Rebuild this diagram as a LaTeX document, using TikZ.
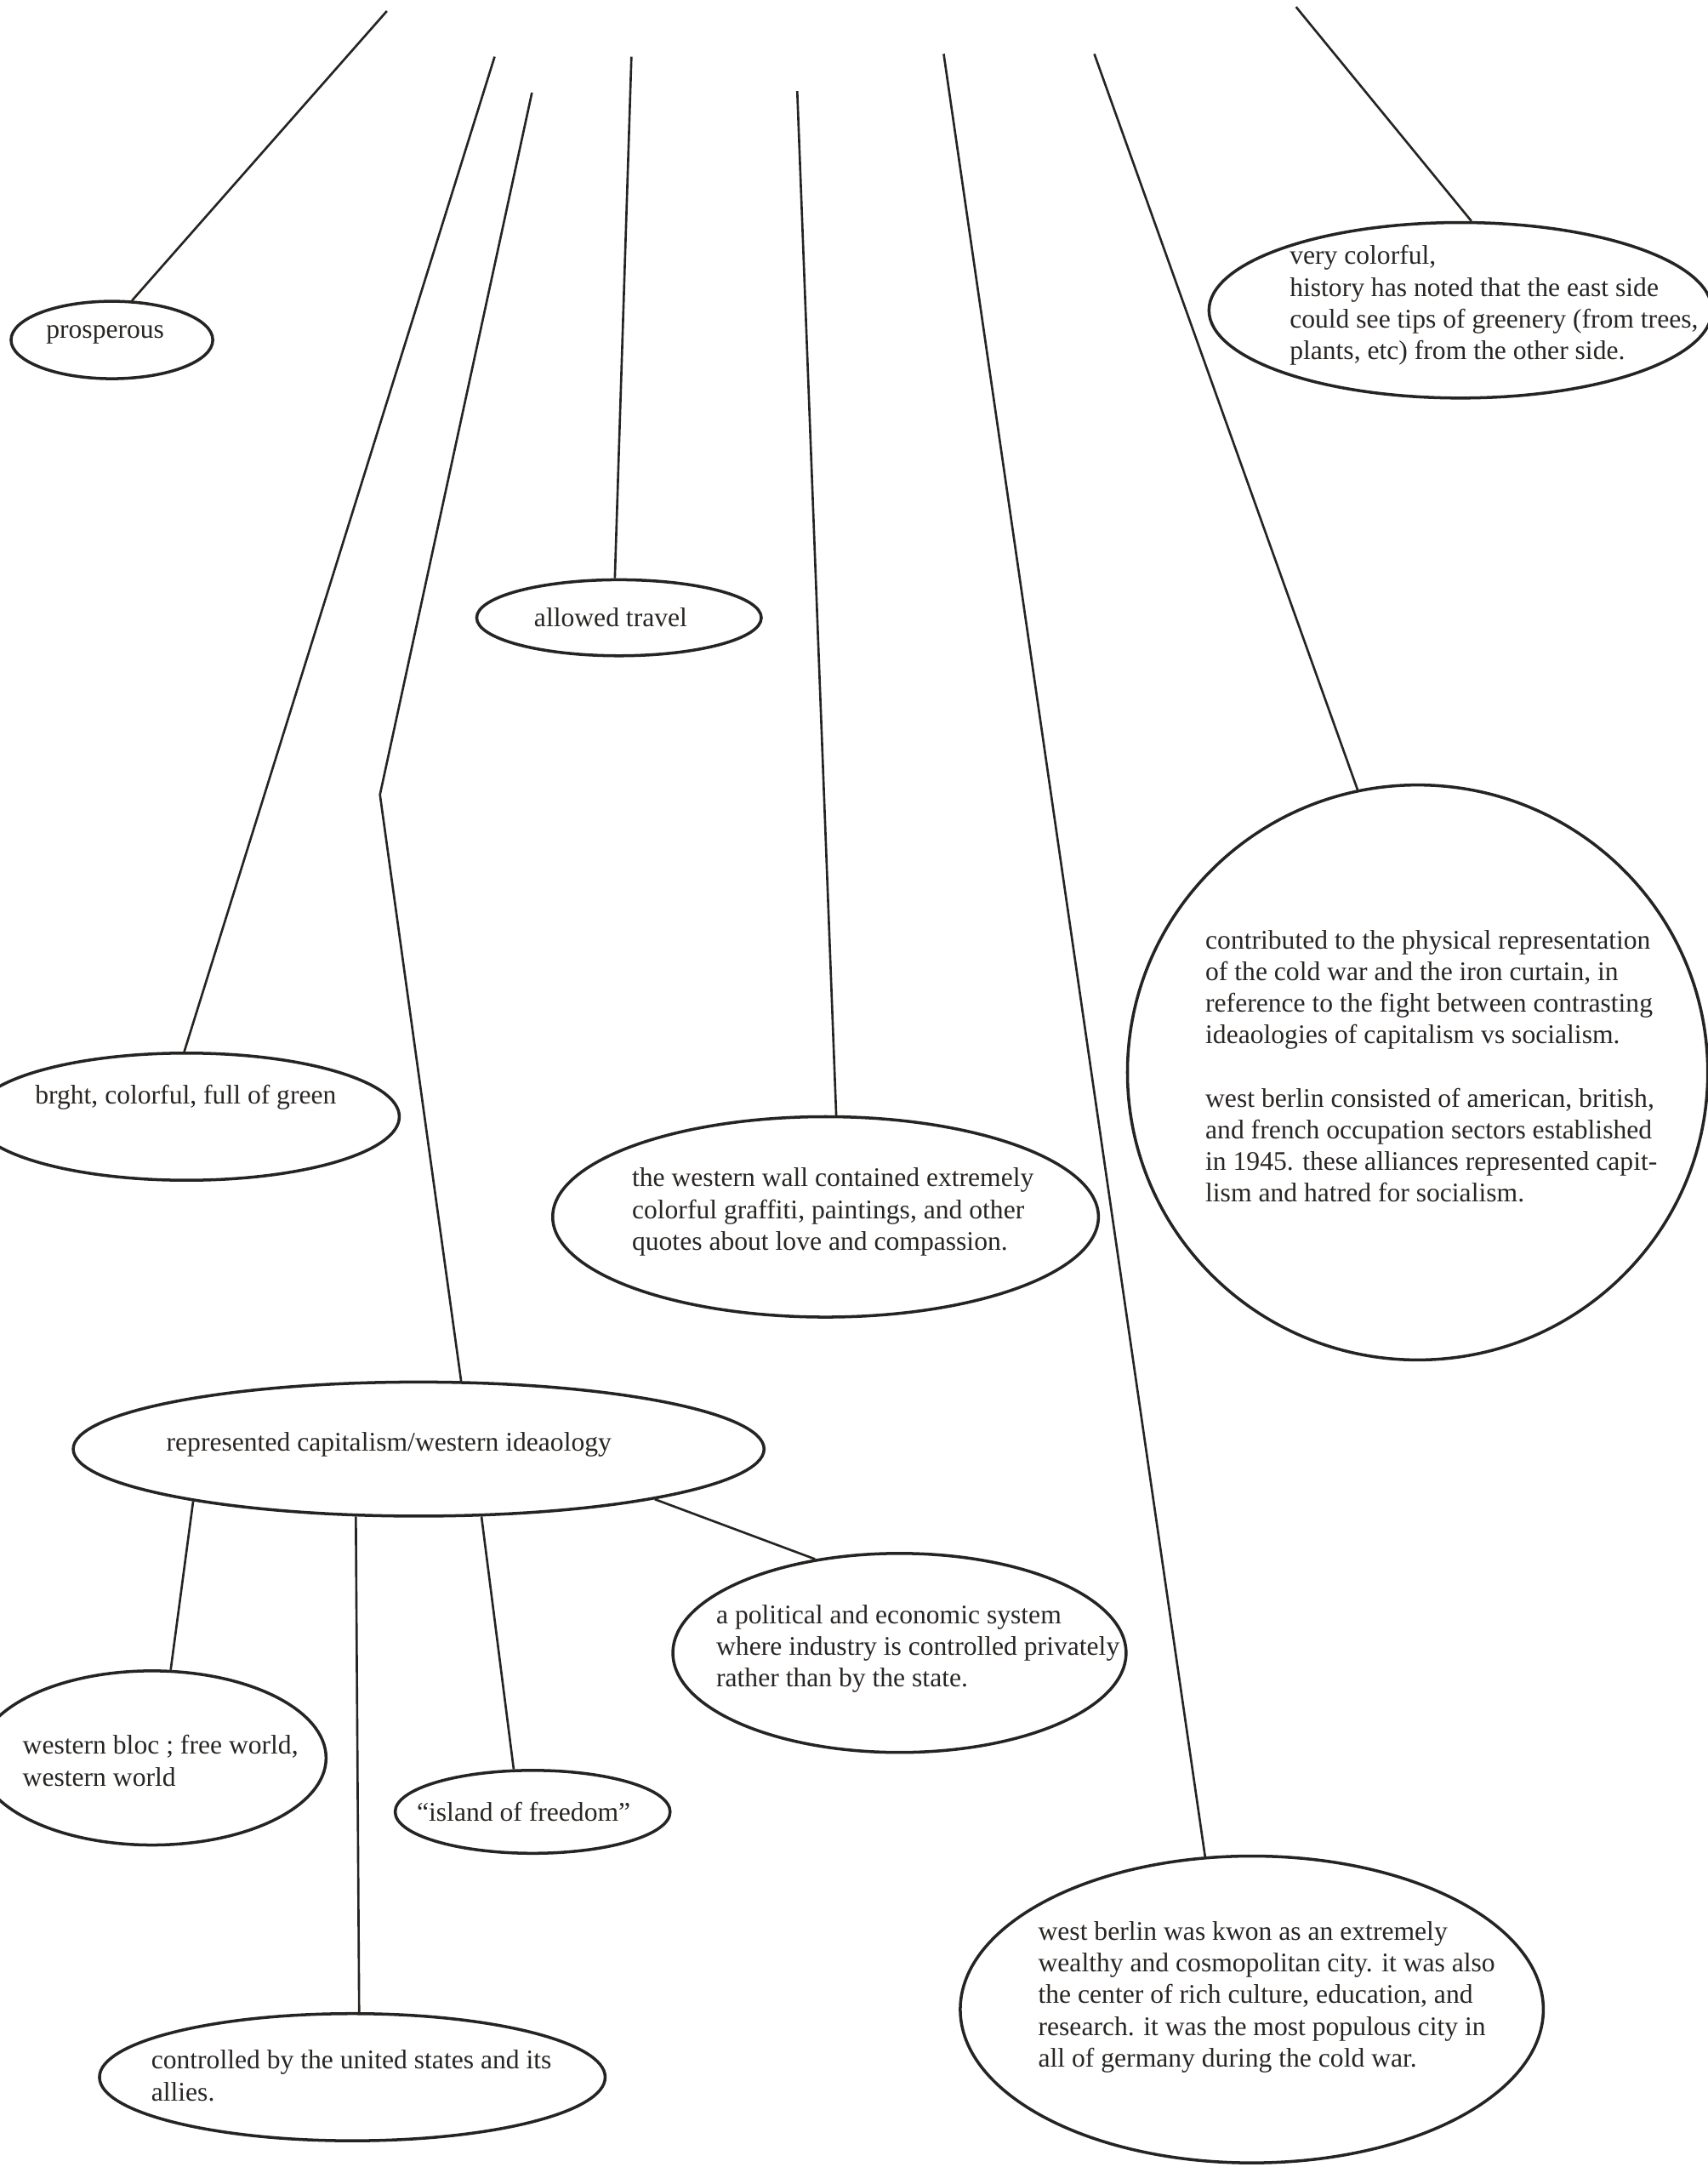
\documentclass[tikz,border=0pt]{standalone}
\usepackage{fontspec}
\setmainfont{Liberation Serif}
\usepackage{tikz}
\usetikzlibrary{shapes.geometric}
\definecolor{wbInk}{RGB}{38, 36, 34}
\definecolor{wbText}{RGB}{40, 37, 35}
\newlength{\bpx}
\setlength{\bpx}{0.016246cm}
\tikzset{
    wtext/.style={
        font=\fontsize{9}{10.6}\selectfont,
        text=wbText
    },
    bubble/.style={
        ellipse,
        draw=wbInk,
        line width=1pt,
        inner sep=0pt
    },
    note/.style={
        wtext,
        align=left,
        inner sep=0pt,
        anchor=west
    },
    strand/.style={
        draw=wbInk,
        line width=0.75pt
    }
}
\begin{document}
\begin{tikzpicture}[x=\bpx, y=-\bpx]
  \useasboundingbox (0,0) rectangle (1236,1568);

  % Bubbles
  \node[bubble, minimum width=146\bpx, minimum height=56\bpx] (prosp) at (81,246) {};
  \node[bubble, minimum width=364\bpx, minimum height=127\bpx] (color) at (1057,224.5) {};
  \node[bubble, minimum width=206\bpx, minimum height=55\bpx] (travel) at (448,447) {};
  \node[bubble, minimum width=308\bpx, minimum height=92\bpx] (green) at (135,808) {};
  \node[bubble, minimum width=395\bpx, minimum height=145\bpx] (wall) at (597.5,880.5) {};
  \node[bubble, minimum width=420\bpx, minimum height=416\bpx] (cold) at (1026,776) {};
  \node[bubble, minimum width=500\bpx, minimum height=97\bpx] (repr) at (303,1048.5) {};
  \node[bubble, minimum width=328\bpx, minimum height=144\bpx] (system) at (651,1196) {};
  \node[bubble, minimum width=252\bpx, minimum height=126\bpx] (bloc) at (110,1272) {};
  \node[bubble, minimum width=199\bpx, minimum height=60\bpx] (island) at (385.5,1311) {};
  \node[bubble, minimum width=366\bpx, minimum height=92\bpx] (allies) at (255,1503) {};
  \node[bubble, minimum width=422\bpx, minimum height=222\bpx] (berlin) at (906,1454) {};

  % Texts
  \node[note] (prosp-t) at (33,242) {prosperous};
  \node[note] (color-t) at (933,221) {very colorful,\\history has noted that the east side\\could see tips of greenery (from trees,\\plants, etc) from the other side.};
  \node[note, anchor=center] (travel-t) at (442,447) {allowed travel};
  \node[note] (green-t) at (25,794) {brght, colorful, full of green};
  \node[note] (wall-t) at (457,877) {the western wall contained extremely\\colorful graffiti, paintings, and other\\quotes about love and compassion.};
  \node[note] (cold-t) at (872,771.5) {contributed to the physical representation\\of the cold war and the iron curtain, in\\reference to the fight between contrasting\\ideaologies of capitalism vs socialism.\\[10.6pt]west berlin consisted of american, british,\\and french occupation sectors established\\in 1945. these alliances represented capit-\\lism and hatred for socialism.};
  \node[note] (repr-t) at (120,1045) {represented capitalism/western ideaology};
  \node[note] (system-t) at (518,1193) {a political and economic system\\where industry is controlled privately\\rather than by the state.};
  \node[note] (bloc-t) at (16,1274) {western bloc ; free world,\\western world};
  \node[note, anchor=center] (island-t) at (379,1311) {“island of freedom”};
  \node[note] (allies-t) at (109,1502) {controlled by the united states and its\\allies.};
  \node[note] (berlin-t) at (751,1445) {west berlin was kwon as an extremely\\wealthy and cosmopolitan city. it was also\\the center of rich culture, education, and\\research. it was the most populous city in\\all of germany during the cold war.};

  % Free ends at the top
  \coordinate (prosp-top) at (280,8);
  \coordinate (green-top) at (358,41);
  \coordinate (repr-top) at (385,67);
  \coordinate (repr-bend) at (275,575);
  \coordinate (travel-top) at (457,41);
  \coordinate (wall-top) at (577,66);
  \coordinate (berlin-top) at (683,39);
  \coordinate (cold-top) at (792,39);
  \coordinate (color-top) at (938,5);

  % Connections
  \draw[strand] (prosp-top) -- (prosp.63);
  \draw[strand] (green-top) -- (green.92);
  \draw[strand] (repr-top) -- (repr-bend) -- (repr.58);
  \draw[strand] (travel-top) -- (travel.96);
  \draw[strand] (wall-top) -- (wall.84);
  \draw[strand] (berlin-top) -- (berlin.107);
  \draw[strand] (cold-top) -- (cold.102);
  \draw[strand] (color-top) -- (color.83);

  \draw[strand] (repr.193) -- (bloc.78);
  \draw[strand] (repr.227) -- (allies.84);
  \draw[strand] (repr.313) -- (island.114);
  \draw[strand] (repr.348) -- (system.132);
\end{tikzpicture}
\end{document}
